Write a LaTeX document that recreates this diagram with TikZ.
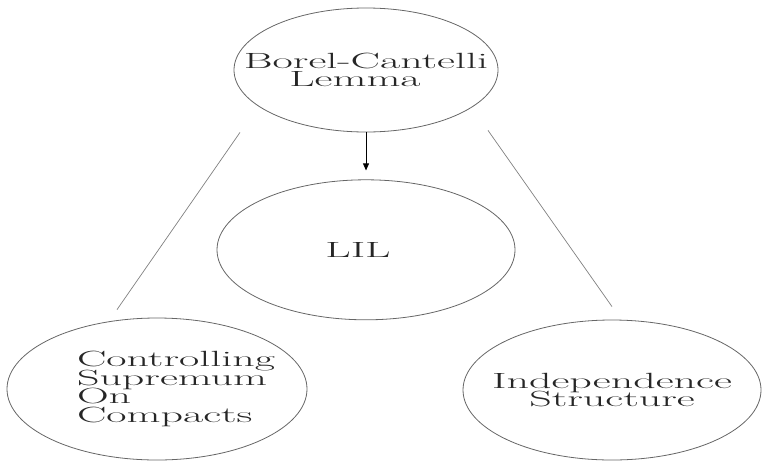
\documentclass[tikz,border=0pt]{standalone}
\usepackage{fontspec}
\usepackage{graphicx}
\usepackage{tikz}
\usetikzlibrary{
  arrows.meta,
  positioning,
  shapes.geometric
}
\tikzset{
  ideabox/.style={draw=black!60, ellipse, line width=0.8pt, inner sep=0pt,
    text=black!85, font=\fontsize{44}{37}\selectfont},
  link/.style={draw=black!50, line width=0.7pt},
  arr/.style={-{Triangle[length=7pt,width=6pt]}, line width=0.7pt},
}
% flattened multi-line label, lines set close together
\newcommand{\squeezed}[2][\hfil]{\makebox[0pt]{\scalebox{1}[0.5]{\vbox{\lineskiplimit=-\maxdimen
  \baselineskip=37pt\let\\\cr\halign{#1##\hfil\cr#2\crcr}}}}}

\begin{document}
\begin{tikzpicture}[x=1pt, y=-1pt]
  \useasboundingbox (0,0) rectangle (762,461);

  \node[ideabox, minimum width=264pt, minimum height=124pt] (bcl) at (366,70)
    {\raisebox{-2pt}{\squeezed{Borel-Cantelli\\Lemma\hspace{22pt}}}};
  \node[ideabox, minimum width=298pt, minimum height=140pt, below=47pt of bcl] (lil)
    {\squeezed{LIL\hspace{16pt}}};
  \node[ideabox, minimum width=300pt, minimum height=142pt] (ctrl) at (157,389)
    {\raisebox{-5pt}{\squeezed[\hspace{38pt}]{Controlling\\Supremum\\On\\Compacts}}};
  \node[ideabox, minimum width=298pt, minimum height=140pt] (indep) at (612,390)
    {\squeezed{Independence\\Structure}};

  \draw[arr, shorten >=9pt] (bcl.south) -- (lil.north);
  \draw[link] ([xshift=-126pt]bcl.south) -- ([xshift=-40pt, yshift=8pt]ctrl.north);
  \draw[link] ([xshift=122pt, yshift=2pt]bcl.south) -- ([yshift=13pt]indep.north);
\end{tikzpicture}
\end{document}
